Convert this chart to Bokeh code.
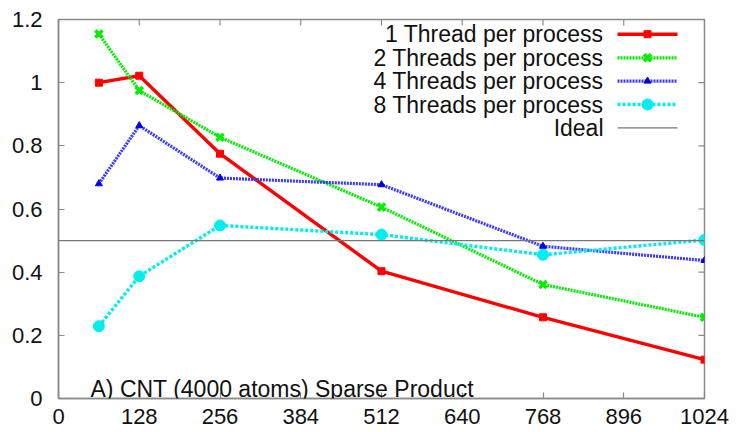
from bokeh.plotting import figure
from bokeh.models import Range1d, FixedTicker, CustomJSTickFormatter, Span, Label
from bokeh.embed import file_html
from bokeh.resources import INLINE

# ---- data ----
procs = [64, 128, 256, 512, 768, 1024]
t1 = [1.00, 1.022, 0.775, 0.403, 0.257, 0.123]
t2 = [1.154, 0.975, 0.827, 0.606, 0.361, 0.257]
t4 = [0.680, 0.864, 0.698, 0.677, 0.482, 0.437]
t8 = [0.229, 0.387, 0.548, 0.519, 0.455, 0.502]
ideal = 0.5
x_ticks = [0, 128, 256, 384, 512, 640, 768, 896, 1024]
y_ticks = [0, 0.2, 0.4, 0.6, 0.8, 1.0, 1.2]
series_names = ["1 Thread per process", "2 Threads per process",
                "4 Threads per process", "8 Threads per process", "Ideal"]
title_text = "A) CNT (4000 atoms) Sparse Product"

FONT = "Liberation Sans"
GREY = "#8a8a8a"

W, H = 737, 432
L, R, T, B = 58, 33, 19, 34
XMAX, YMAX = 1024, 1.2

p = figure(width=W, height=H, output_backend="svg", toolbar_location=None,
           x_range=Range1d(0, XMAX), y_range=Range1d(0, YMAX),
           min_border_left=L, min_border_right=R, min_border_top=T, min_border_bottom=B)
p.xgrid.visible = False
p.ygrid.visible = False
p.outline_line_color = GREY
p.outline_line_width = 1.5
p.background_fill_color = "white"
p.border_fill_color = "white"

fw, fh = W - L - R, H - T - B
def px2x(px):
    return (px - L) / fw * XMAX
def py2y(py):
    return (H - B - py) / fh * YMAX

TICK = 6
for ax in (p.xaxis[0], p.yaxis[0]):
    ax.axis_line_color = GREY
    ax.axis_line_width = 1.5
    ax.major_tick_line_color = GREY
    ax.major_tick_line_width = 1.2
    ax.major_tick_in = TICK
    ax.major_tick_out = 0
    ax.minor_tick_line_color = None
    ax.major_label_text_font = FONT
    ax.major_label_text_font_size = "22px"
    ax.major_label_text_color = "#111111"

p.xaxis.ticker = FixedTicker(ticks=x_ticks)
p.yaxis.ticker = FixedTicker(ticks=y_ticks)
p.yaxis.formatter = CustomJSTickFormatter(code="return tick.toString();")
p.xaxis.major_label_standoff = 10
p.yaxis.major_label_standoff = 16

# mirrored inward ticks on top and right (gnuplot style)
dx = TICK / fw * XMAX
dy = TICK / fh * YMAX
p.segment(x0=x_ticks, y0=[YMAX] * len(x_ticks), x1=x_ticks, y1=[YMAX - dy] * len(x_ticks),
          line_color=GREY, line_width=1.2)
p.segment(x0=[XMAX] * len(y_ticks), y0=y_ticks, x1=[XMAX - dx] * len(y_ticks), y1=y_ticks,
          line_color=GREY, line_width=1.2)

# ideal line
p.add_layout(Span(location=ideal, dimension="width", line_color="#777777", line_width=1.2))

styles = [
    dict(color="#ff0000", width=3.4, dash="solid", marker="square", size=7, lw=1),
    dict(color="#00ee00", width=3.2, dash="2 1", marker="x", size=10, lw=3.5),
    dict(color="#3a3aff", width=3.2, dash="2 1", marker="triangle", size=7, lw=1),
    dict(color="#00eeee", width=3.4, dash="3 2", marker="circle", size=11, lw=1),
    dict(color="#777777", width=1.2, dash="solid", marker=None, size=0, lw=1),
]

def draw_marker(xs, ys, st):
    if st["marker"] == "x":
        p.scatter(xs, ys, marker="x", size=st["size"], line_color=st["color"], line_width=st["lw"])
    elif st["marker"]:
        c = "#0000ee" if st["marker"] == "triangle" else st["color"]
        p.scatter(xs, ys, marker=st["marker"], size=st["size"], fill_color=c, line_color=c)

for ys, st in zip([t1, t2, t4, t8], styles):
    p.line(procs, ys, line_color=st["color"], line_width=st["width"], line_dash=st["dash"])
    draw_marker(procs, ys, st)

# manual legend (text left, sample right, gnuplot style)
rows_py = [33.7, 57.3, 80.6, 104, 127.3]
tx = px2x(603)
lx0, lx1, mx = px2x(617), px2x(677), px2x(647)
for name, py, st in zip(series_names, rows_py, styles):
    y = py2y(py)
    p.add_layout(Label(x=tx, y=y, text=name, text_align="right", text_baseline="middle",
                       text_font=FONT, text_font_size="23px", text_color="#111111"))
    p.line([lx0, lx1], [y, y], line_color=st["color"], line_width=st["width"], line_dash=st["dash"])
    draw_marker([mx], [y], st)

p.add_layout(Label(x=px2x(90), y=py2y(388), text=title_text, text_align="left",
                   text_baseline="alphabetic", text_font=FONT, text_font_size="23px",
                   text_color="#111111"))

open("out.html", "w").write(file_html(p, INLINE))
